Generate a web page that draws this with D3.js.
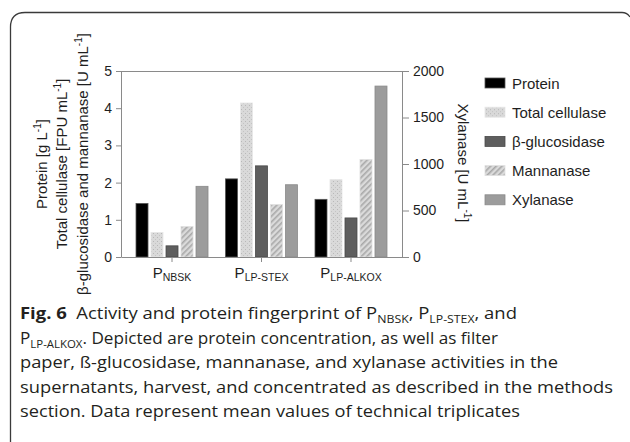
<!DOCTYPE html>
<html>
<head>
<meta charset="utf-8">
<script src="https://cdn.jsdelivr.net/npm/d3@7/dist/d3.min.js"></script>
<style>
  html, body { margin: 0; padding: 0; background: #fff; }
  svg { display: block; }
</style>
</head>
<body>
<svg id="chart" width="630" height="442"></svg>
<script>
// ---------- data ----------
const categories = ["NBSK", "LP-STEX", "LP-ALKOX"];
const seriesNames = ["Protein", "Total cellulase", "β-glucosidase", "Mannanase", "Xylanase"];
const proteinVals   = [1.44, 2.10, 1.55];   // g/L (left axis)
const cellulaseVals = [0.66, 4.14, 2.08];   // FPU/mL (left axis)
const betaGlucVals  = [0.30, 2.45, 1.05];   // U/mL (left axis)
const mannanaseVals = [0.82, 1.41, 2.62];   // U/mL (left axis)
const xylanaseVals  = [760, 777, 1838];     // U/mL (right axis)
const leftTicks  = [0, 1, 2, 3, 4, 5];
const rightTicks = [0, 500, 1000, 1500, 2000];
const captionLines = [
  [{t:"Fig. 6", b:true}, {t:"  Activity and protein fingerprint of P"}, {t:"NBSK", sub:true}, {t:", P"}, {t:"LP-STEX", sub:true}, {t:", and"}],
  [{t:"P"}, {t:"LP-ALKOX", sub:true}, {t:". Depicted are protein concentration, as well as filter"}],
  [{t:"paper, ß-glucosidase, mannanase, and xylanase activities in the"}],
  [{t:"supernatants, harvest, and concentrated as described in the methods"}],
  [{t:"section. Data represent mean values of technical triplicates"}]
];

const seriesVals = [proteinVals, cellulaseVals, betaGlucVals, mannanaseVals, xylanaseVals];
const seriesAxis = ["L", "L", "L", "L", "R"];

// ---------- setup ----------
const svg = d3.select("#chart");
const FONT = "'Liberation Sans', Arial, sans-serif";
const axisColor = "#8a8a8a";
const textColor = "#1e1e1e";

// patterns
const defs = svg.append("defs");
const dots = defs.append("pattern").attr("id", "dots").attr("patternUnits", "userSpaceOnUse")
  .attr("width", 4).attr("height", 4);
dots.append("rect").attr("width", 4).attr("height", 4).attr("fill", "#d9d9d9");
dots.append("rect").attr("x", 1).attr("y", 1).attr("width", 1).attr("height", 1).attr("fill", "#b8b8b8");
dots.append("rect").attr("x", 3).attr("y", 3).attr("width", 1).attr("height", 1).attr("fill", "#c4c4c4");

const hatch = defs.append("pattern").attr("id", "hatch").attr("patternUnits", "userSpaceOnUse")
  .attr("width", 4).attr("height", 4).attr("patternTransform", "rotate(45)");
hatch.append("rect").attr("width", 4).attr("height", 4).attr("fill", "#dadada");
hatch.append("rect").attr("x", 0).attr("width", 1.6).attr("height", 4).attr("fill", "#a9a9a9");

const fills   = ["#000000", "url(#dots)", "#5e5e5e", "url(#hatch)", "#9c9c9c"];
const strokes = ["#555555", "#e6e6e6", "#4a4a4a", "#e0e0e0", "#8a8a8a"];

// ---------- scales ----------
const plotL = 121, plotR = 402, plotT = 71, plotB = 257;
const yL = d3.scaleLinear().domain([0, 5]).range([plotB, plotT]);
const yR = d3.scaleLinear().domain([0, 2000]).range([plotB, plotT]);
const x0 = d3.scaleBand().domain(categories).range([plotL, plotR]).paddingInner(0).paddingOuter(0.07);
const groupW = 72;
const x1 = d3.scaleBand().domain(seriesNames).range([0, groupW]).paddingInner(0.2).paddingOuter(0);

// ---------- bars ----------
const barData = [];
categories.forEach((c, ci) => {
  seriesNames.forEach((s, si) => {
    barData.push({cat: c, ser: s, si: si, v: seriesVals[si][ci], axis: seriesAxis[si]});
  });
});
svg.append("g").selectAll("rect").data(barData).join("rect")
  .attr("x", d => x0(d.cat) + x0.bandwidth() / 2 - groupW / 2 + x1(d.ser))
  .attr("width", x1.bandwidth())
  .attr("y", d => (d.axis === "L" ? yL(d.v) : yR(d.v)))
  .attr("height", d => plotB - (d.axis === "L" ? yL(d.v) : yR(d.v)))
  .attr("fill", d => fills[d.si])
  .attr("stroke", d => strokes[d.si])
  .attr("stroke-width", 0.8);

// ---------- axes ----------
function styleAxis(g) {
  g.selectAll("path, line").attr("stroke", axisColor).attr("stroke-width", 1);
  g.selectAll("text").attr("fill", textColor).attr("font-family", FONT).attr("font-size", 14);
}
svg.append("g").attr("transform", `translate(${plotL},0)`)
  .call(d3.axisLeft(yL).tickValues(leftTicks).tickSize(5).tickSizeOuter(0).tickPadding(4).tickFormat(d3.format("d")))
  .call(styleAxis);
svg.append("g").attr("transform", `translate(${plotR},0)`)
  .call(d3.axisRight(yR).tickValues(rightTicks).tickSize(7).tickSizeOuter(0).tickPadding(4).tickFormat(d3.format("d")))
  .call(styleAxis);
svg.append("g").attr("transform", `translate(0,${plotB})`)
  .call(d3.axisBottom(x0).tickSize(5).tickSizeOuter(0).tickFormat(""))
  .call(styleAxis);
// top border line
svg.append("line").attr("x1", plotL).attr("x2", plotR).attr("y1", plotT + 0.5).attr("y2", plotT + 0.5)
  .attr("stroke", axisColor).attr("stroke-width", 1);

// category labels
const catLab = svg.append("g").selectAll("text").data(categories).join("text")
  .attr("x", d => x0(d) + x0.bandwidth() / 2)
  .attr("y", 278)
  .attr("text-anchor", "middle")
  .attr("font-family", FONT).attr("fill", textColor);
catLab.append("tspan").attr("font-size", 15).text("P");
catLab.append("tspan").attr("font-size", 10.5).attr("dy", 3).text(d => d);

// ---------- axis titles ----------
function titleWithSup(g, parts) {
  parts.forEach(p => {
    const ts = g.append("tspan").text(p.t);
    if (p.sup) ts.attr("font-size", 10).attr("dy", -6);
    else if (p.after) ts.attr("dy", 6);
  });
}
const leftTitles = [
  {x: 47, parts: [{t:"Protein [g L"}, {t:"-1", sup:true}, {t:"]", after:true}]},
  {x: 67, parts: [{t:"Total cellulase [FPU mL"}, {t:"-1", sup:true}, {t:"]", after:true}]},
  {x: 88, parts: [{t:"β-glucosidase and mannanase [U mL"}, {t:"-1", sup:true}, {t:"]", after:true}]}
];
leftTitles.forEach(lt => {
  const t = svg.append("text")
    .attr("transform", `translate(${lt.x},164) rotate(-90)`)
    .attr("text-anchor", "middle")
    .attr("font-family", FONT).attr("font-size", 15).attr("fill", textColor);
  titleWithSup(t, lt.parts);
});
const rt = svg.append("text")
  .attr("transform", `translate(458,163) rotate(90)`)
  .attr("text-anchor", "middle")
  .attr("font-family", FONT).attr("font-size", 15).attr("fill", textColor);
titleWithSup(rt, [{t:"Xylanase [U mL"}, {t:"-1", sup:true}, {t:"]", after:true}]);

// ---------- legend ----------
const legend = svg.append("g").selectAll("g").data(seriesNames).join("g")
  .attr("transform", (d, i) => `translate(485,${83 + i * 29.2})`);
legend.append("rect").attr("x", 0).attr("y", -5).attr("width", 20).attr("height", 10)
  .attr("fill", (d, i) => fills[i]).attr("stroke", (d, i) => strokes[i]).attr("stroke-width", 0.8);
legend.append("text").attr("x", 27).attr("y", 5.5)
  .attr("font-family", FONT).attr("font-size", 15).attr("fill", textColor)
  .text(d => d);

// ---------- frame ----------
svg.append("path")
  .attr("d", "M10.5,442 L10.5,27 Q10.5,12.5 25,12.5 L622,12.5 Q627,12.5 630,17")
  .attr("fill", "none").attr("stroke", "#3a3a3a").attr("stroke-width", 1.3);

// ---------- caption ----------
const capFont = "'Open Sans', 'Noto Sans', sans-serif";
const capBase = [319, 343.5, 368, 392.5, 417];
const capWidths = [497, 478, 538, 593, 500];
captionLines.forEach((line, li) => {
  const t = svg.append("text")
    .attr("x", 20).attr("y", capBase[li])
    .attr("font-family", capFont).attr("font-size", 16.5).attr("fill", "#231f20")
    .attr("xml:space", "preserve").style("white-space", "pre");
  line.forEach((p, pi) => {
    const ts = t.append("tspan").text(p.t);
    if (p.b) ts.attr("font-weight", "bold");
    if (p.sub) ts.attr("font-size", 11).attr("dy", 4);
    else if (pi > 0 && line[pi - 1].sub) ts.attr("dy", -4);
  });
  t.attr("textLength", capWidths[li]).attr("lengthAdjust", "spacingAndGlyphs");
});
</script>
</body>
</html>
